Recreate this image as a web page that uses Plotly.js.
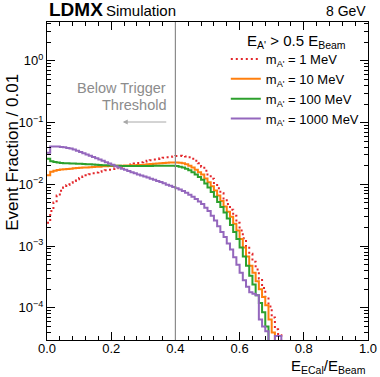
<!DOCTYPE html>
<html>
<head>
<meta charset="utf-8">
<script src="https://cdn.plot.ly/plotly-3.0.1.min.js"></script>
<style>
  body { margin: 0; background: white; }
  #plot { width: 380px; height: 377px; }
</style>
</head>
<body>
<div id="plot"></div>
<script>
// Histogram bin width in E_ECal / E_Beam
var binWidth = 0.01;

// Event fraction per bin (bins start at 0.00); 0 = empty bin
var frac1MeV = [0.0024, 0.0037, 0.0051, 0.0066, 0.0079, 0.0089, 0.0098, 0.0106, 0.0114, 0.0121,
  0.0127, 0.0134, 0.0140, 0.0146, 0.0151, 0.0156, 0.0160, 0.0164, 0.0169, 0.0173,
  0.0178, 0.0183, 0.0188, 0.0194, 0.0199, 0.0205, 0.0211, 0.0217, 0.0223, 0.0229,
  0.0235, 0.0241, 0.0247, 0.0253, 0.0259, 0.0265, 0.0270, 0.0275, 0.0280, 0.0284,
  0.0288, 0.0290, 0.0289, 0.0284, 0.0274, 0.0260, 0.0242, 0.0220, 0.0194, 0.0167,
  0.0144, 0.0124, 0.0105, 0.0087, 0.0072, 0.0059, 0.0048, 0.0039, 0.0031, 0.0024,
  0.0018, 0.00134, 0.0010, 0.00075, 0.00056, 0.00042, 0.00030, 0.00021, 0.00015, 0.000105,
  0.00007, 0.000045, 0.000036];
var frac10MeV = [0.0140, 0.0160, 0.0167, 0.0171, 0.0174, 0.0176, 0.0178, 0.0180, 0.0182, 0.0184,
  0.0186, 0.0187, 0.0188, 0.0190, 0.0191, 0.0193, 0.0194, 0.0196, 0.0197, 0.0198,
  0.0199, 0.0200, 0.0201, 0.0201, 0.0202, 0.0203, 0.0204, 0.0205, 0.0206, 0.0207,
  0.0209, 0.0211, 0.0213, 0.0215, 0.0218, 0.0220, 0.0222, 0.0224, 0.0226, 0.0227,
  0.0227, 0.0225, 0.0220, 0.0212, 0.0200, 0.0187, 0.0172, 0.0158, 0.0145, 0.0125,
  0.0108, 0.0093, 0.0080, 0.0066, 0.0054, 0.0044, 0.0036, 0.0030, 0.0023, 0.0018,
  0.0013, 0.00095, 0.00068, 0.00048, 0.00037, 0.00027, 0.00020, 0.00015, 0.00011, 0.000065,
  0.00004];
var frac100MeV = [0.0260, 0.0236, 0.0230, 0.0226, 0.0223, 0.0221, 0.0219, 0.0218, 0.0217, 0.0216,
  0.0215, 0.0213, 0.0212, 0.0211, 0.0210, 0.0208, 0.0207, 0.0205, 0.0204, 0.0203,
  0.0202, 0.0201, 0.0200, 0.0199, 0.0199, 0.0198, 0.0198, 0.0198, 0.0198, 0.0198,
  0.0198, 0.0199, 0.0199, 0.0200, 0.0200, 0.0201, 0.0201, 0.0201, 0.0201, 0.0200,
  0.0198, 0.0194, 0.0188, 0.0180, 0.0170, 0.0158, 0.0145, 0.0132, 0.0119, 0.0103,
  0.0089, 0.0075, 0.0063, 0.0052, 0.0043, 0.0035, 0.0028, 0.0022, 0.0017, 0.0013,
  0.00095, 0.00068, 0.00048, 0.00033, 0.00024, 0.00016, 0.00012, 0.000085, 0.00005];
var frac1000MeV = [0.0325, 0.0412, 0.0412, 0.0410, 0.0405, 0.0398, 0.0390, 0.0380, 0.0366, 0.0350,
  0.0335, 0.0320, 0.0305, 0.0291, 0.0278, 0.0265, 0.0253, 0.0241, 0.0229, 0.0218,
  0.0208, 0.0197, 0.0188, 0.0180, 0.0172, 0.0165, 0.0158, 0.0151, 0.0145, 0.0139,
  0.0134, 0.0129, 0.0124, 0.0119, 0.0114, 0.0109, 0.0104, 0.0099, 0.0095, 0.0091,
  0.0087, 0.0083, 0.0078, 0.0073, 0.0068, 0.0063, 0.0058, 0.0053, 0.0048, 0.0042,
  0.0037, 0.0031, 0.0026, 0.0021, 0.0017, 0.0014, 0.0011, 0.00088, 0.00066, 0.00050,
  0.00037, 0.00028, 0.00022, 0.00018, 0.00017, 0.00016, 0.000065, 0.000050, 0.000042, 0,
  0, 0.000035, 0.000035];

var seriesData = [frac1MeV, frac10MeV, frac100MeV, frac1000MeV];
var seriesNames = ["m<sub>A'</sub> = 1 MeV", "m<sub>A'</sub> = 10 MeV",
  "m<sub>A'</sub> = 100 MeV", "m<sub>A'</sub> = 1000 MeV"];
var seriesColors = ['#e3262a', '#ff7f0e', '#2ca02c', '#9467bd'];
var seriesDash = ['2px,3px', 'solid', 'solid', 'solid'];

// trigger threshold
var threshold = 0.4;

var yTickVals = [1e-4, 1e-3, 1e-2, 1e-1, 1];
var yTickText = ['10<sup>\u22124</sup>', '10<sup>\u22123</sup>', '10<sup>\u22122</sup>',
  '10<sup>\u22121</sup>', '10<sup>0</sup>'];

// log minor ticks 2..9 in each decade
var yMinor = [];
for (var p = -5; p <= 0; p++) {
  for (var d = 2; d <= 9; d++) yMinor.push(d * Math.pow(10, p));
}

// empty bins sit far below the axis so the outline drops to the floor
var floor = 1e-9;

function histTrace(values, name, color, dash) {
  var x = [], y = [];
  for (var i = 0; i <= values.length; i++) {
    x.push(i * binWidth);
    var v = i < values.length ? values[i] : 0;
    y.push(v > 0 ? v : floor);
  }
  return {
    x: x, y: y, name: name, type: 'scatter', mode: 'lines',
    line: {shape: 'hv', color: color, width: 2, dash: dash},
    hoverinfo: 'skip'
  };
}

var data = seriesData.map(function (vals, k) {
  return histTrace(vals, seriesNames[k], seriesColors[k], seriesDash[k]);
});

var font = 'Liberation Sans, Arial, Helvetica, sans-serif';
var gray = '#8c8c8c';

var layout = {
  width: 380, height: 377,
  margin: {l: 47, r: 12, t: 22, b: 37},
  paper_bgcolor: 'white', plot_bgcolor: 'white',
  font: {family: font, size: 13, color: 'black'},
  showlegend: true,
  legend: {
    x: 0.557, y: 0.931, xanchor: 'left', yanchor: 'top',
    bgcolor: 'rgba(0,0,0,0)', font: {size: 13}, itemwidth: 30
  },
  xaxis: {
    range: [0, 1], tick0: 0, dtick: 0.2, tickformat: '.1f',
    ticks: 'inside', ticklen: 8, tickcolor: 'black', ticklabelstandoff: -4,
    showline: true, linecolor: 'black', linewidth: 1, mirror: 'allticks',
    showgrid: false, zeroline: false,
    minor: {tick0: 0, dtick: 0.04, ticks: 'inside', ticklen: 4, tickcolor: 'black', showgrid: false}
  },
  yaxis: {
    type: 'log', range: [-4.52, 0.63],
    tickmode: 'array', tickvals: yTickVals, ticktext: yTickText,
    ticks: 'inside', ticklen: 8, tickcolor: 'black',
    showline: true, linecolor: 'black', linewidth: 1, mirror: 'allticks',
    showgrid: false, zeroline: false,
    minor: {tickmode: 'array', tickvals: yMinor, ticks: 'inside', ticklen: 4, tickcolor: 'black', showgrid: false}
  },
  shapes: [{
    type: 'line', xref: 'x', yref: 'paper', x0: threshold, x1: threshold, y0: 0, y1: 1,
    line: {color: gray, width: 1.2}
  }],
  annotations: [
    {text: '<b>LDMX</b>', xref: 'paper', yref: 'paper', x: 0, y: 1.038, xanchor: 'left', yanchor: 'middle',
     showarrow: false, font: {size: 19}},
    {text: 'Simulation', xref: 'paper', yref: 'paper', x: 0.178, y: 1.036, xanchor: 'left', yanchor: 'middle',
     showarrow: false, font: {size: 15}},
    {text: '8 GeV', xref: 'paper', yref: 'paper', x: 1, y: 1.036, xanchor: 'right', yanchor: 'middle',
     showarrow: false, font: {size: 14}},
    {text: "E<sub>A'</sub> &gt; 0.5 E<sub>Beam</sub>", xref: 'paper', yref: 'paper', x: 0.776, y: 0.94,
     xanchor: 'center', yanchor: 'middle', showarrow: false, font: {size: 15}},
    {text: 'Below Trigger', xref: 'paper', yref: 'paper', x: 0.376, y: 0.792, xanchor: 'right', yanchor: 'middle',
     showarrow: false, font: {size: 14.5, color: gray}},
    {text: 'Threshold', xref: 'paper', yref: 'paper', x: 0.376, y: 0.739, xanchor: 'right', yanchor: 'middle',
     showarrow: false, font: {size: 14.5, color: gray}},
    {text: '', xref: 'paper', yref: 'paper', x: 0.236, y: 0.6855, ax: 45, ay: 0,
     showarrow: true, arrowhead: 2, arrowsize: 1, arrowwidth: 1, arrowcolor: '#a8a8a8'},
    {text: 'Event Fraction / 0.01', xref: 'paper', yref: 'paper', x: -0.11, y: 0.591, textangle: -90,
     xanchor: 'center', yanchor: 'middle', showarrow: false, font: {size: 17}},
    {text: 'E<sub>ECal</sub>/E<sub>Beam</sub>', xref: 'paper', yref: 'paper', x: 1, y: -0.083,
     xanchor: 'right', yanchor: 'middle', showarrow: false, font: {size: 15}}
  ]
};

Plotly.newPlot('plot', data, layout, {displayModeBar: false, staticPlot: true});
</script>
</body>
</html>
